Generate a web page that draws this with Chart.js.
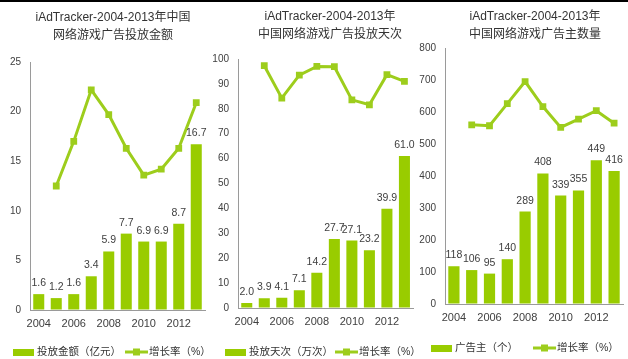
<!DOCTYPE html>
<html><head><meta charset="utf-8">
<script src="https://cdn.jsdelivr.net/npm/chart.js@4/dist/chart.umd.min.js"></script>
<style>
html,body{margin:0;padding:0;background:#fff;}
#wrap{position:relative;width:628px;height:359px;overflow:hidden;background:#fff;}
#topbar{position:absolute;left:0;top:0;width:628px;height:2px;background:#000;z-index:5;}
canvas{position:absolute;top:0;}
</style></head><body>
<div id="wrap">
<canvas id="c1" width="210" height="359" style="left:0px"></canvas>
<canvas id="c2" width="208" height="359" style="left:210px"></canvas>
<canvas id="c3" width="210" height="359" style="left:418px"></canvas>
<div id="topbar"></div>
</div>
<script>
// ---- data ----
const years = ['2004','2005','2006','2007','2008','2009','2010','2011','2012','2013'];
const spendValues = [1.6, 1.2, 1.6, 3.4, 5.9, 7.7, 6.9, 6.9, 8.7, 16.7];
const spendGrowthPos = [null, 12.5, 17.0, 22.2, 19.7, 16.3, 13.6, 14.2, 16.3, 20.9];
const daysValues = [2.0, 3.9, 4.1, 7.1, 14.2, 27.7, 27.1, 23.2, 39.9, 61.0];
const daysGrowthPos = [null, 97.3, 84.3, 93.5, 97.0, 96.9, 83.6, 81.6, 93.7, 91.0];
const advertiserValues = [118, 106, 95, 140, 289, 408, 339, 355, 449, 416];
const advertiserGrowthPos = [null, 560, 557, 626, 695, 617, 552, 578, 604, 565];

const spendTitle = ['iAdTracker-2004-2013年中国', '网络游戏广告投放金额'];
const daysTitle = ['iAdTracker-2004-2013年', '中国网络游戏广告投放天次'];
const advTitle = ['iAdTracker-2004-2013年', '中国网络游戏广告主数量'];
const spendLegend = '投放金额（亿元）';
const daysLegend = '投放天次（万次）';
const advLegend = '广告主（个）';
const growthLegend = '增长率（%）';

const FONT = "'Liberation Sans','Noto Sans CJK SC',sans-serif";
const BAR = '#99cc00';
const LINE = '#9dcd1c';
const TXT = '#404040';

const decor = {
  id: 'decor',
  afterDraw(chart, args, o) {
    const ctx = chart.ctx;
    ctx.save();
    // titles
    ctx.fillStyle = '#333';
    ctx.font = '12px ' + FONT;
    ctx.textAlign = 'center';
    ctx.textBaseline = 'middle';
    o.title.forEach((t, i) => ctx.fillText(t, o.titleX, o.titleY[i]));
    // data labels
    const meta = chart.getDatasetMeta(1);
    const ds = chart.data.datasets[1];
    ctx.fillStyle = TXT;
    ctx.font = '10.5px ' + FONT;
    ctx.textBaseline = 'alphabetic';
    meta.data.forEach((el, i) => {
      const v = ds.data[i];
      ctx.fillText(o.fmt(v), el.x, el.y - 8);
    });
    // legend
    const L = o.legend;
    ctx.fillStyle = BAR;
    ctx.fillRect(L.rectX, L.y - 3, 21, 7);
    ctx.fillStyle = '#333';
    ctx.font = '10.5px ' + FONT;
    ctx.textAlign = 'left';
    ctx.textBaseline = 'middle';
    ctx.fillText(L.text1, L.rectX + 24, L.y + 0.5);
    ctx.strokeStyle = LINE;
    ctx.lineWidth = 3;
    ctx.beginPath();
    ctx.moveTo(L.lineX, L.y);
    ctx.lineTo(L.lineX + 23, L.y);
    ctx.stroke();
    ctx.fillStyle = LINE;
    ctx.fillRect(L.lineX + 8, L.y - 3.5, 7, 7);
    ctx.fillStyle = '#333';
    ctx.fillText(L.text2, L.lineX + 24, L.y + 0.5);
    ctx.restore();
  }
};

function makePanel(id, cfg) {
  new Chart(document.getElementById(id), {
    type: 'bar',
    data: {
      labels: years,
      datasets: [
        {
          type: 'line', label: growthLegend, data: cfg.line,
          borderColor: LINE, backgroundColor: LINE, borderWidth: 3,
          pointStyle: 'rect', pointRadius: 4.8, pointBackgroundColor: LINE,
          pointBorderWidth: 0, tension: 0, spanGaps: false, order: 0
        },
        {
          type: 'bar', label: cfg.legendText, data: cfg.bars,
          backgroundColor: BAR, borderWidth: 0,
          barPercentage: 0.63, categoryPercentage: 1.0, order: 1
        }
      ]
    },
    options: {
      responsive: false, animation: false, devicePixelRatio: 1,
      layout: { padding: { left: 0, right: cfg.padRight, top: cfg.top, bottom: 0 } },
      plugins: {
        legend: { display: false }, tooltip: { enabled: false }, title: { display: false },
        decor: {
          title: cfg.title, titleX: cfg.titleX, titleY: cfg.titleY, fmt: cfg.fmt,
          legend: { rectX: cfg.legRect, lineX: cfg.legLine, y: cfg.legY, text1: cfg.legendText, text2: growthLegend }
        }
      },
      scales: {
        x: {
          grid: { display: true, color: 'rgba(0,0,0,0)', drawTicks: false },
          border: { display: true, color: '#9a9a9a', width: 1 },
          ticks: {
            autoSkip: false, maxRotation: 0, padding: 7, color: TXT,
            font: { family: FONT, size: 11 },
            callback: (v, i) => (i % 2 === 0 ? years[i] : '')
          },
          afterFit: s => { s.height = cfg.xHeight; }
        },
        y: {
          min: 0, max: cfg.max,
          grid: { display: true, color: 'rgba(0,0,0,0)', drawTicks: false },
          border: { display: true, color: '#9a9a9a', width: 1 },
          ticks: { stepSize: cfg.step, padding: 9, color: TXT, font: { family: FONT, size: 10 } },
          afterFit: s => { s.width = cfg.yWidth; }
        }
      }
    },
    plugins: [decor]
  });
}

makePanel('c1', {
  bars: spendValues, line: spendGrowthPos, max: 25, step: 5,
  padRight: 5, top: 62, yWidth: 30, xHeight: 49,
  title: spendTitle, titleX: 113, titleY: [18, 36], fmt: v => v.toFixed(1),
  legendText: spendLegend, legRect: 13, legLine: 125, legY: 352
});
makePanel('c2', {
  bars: daysValues, line: daysGrowthPos, max: 100, step: 10,
  padRight: 4, top: 59, yWidth: 28, xHeight: 51,
  title: daysTitle, titleX: 120, titleY: [17, 35], fmt: v => v.toFixed(1),
  legendText: daysLegend, legRect: 15, legLine: 125, legY: 352
});
makePanel('c3', {
  bars: advertiserValues, line: advertiserGrowthPos, max: 800, step: 100,
  padRight: 5, top: 48, yWidth: 27, xHeight: 55,
  title: advTitle, titleX: 117, titleY: [17, 35], fmt: v => String(Math.round(v)),
  legendText: advLegend, legRect: 13, legLine: 115, legY: 348
});
</script>
</body></html>
